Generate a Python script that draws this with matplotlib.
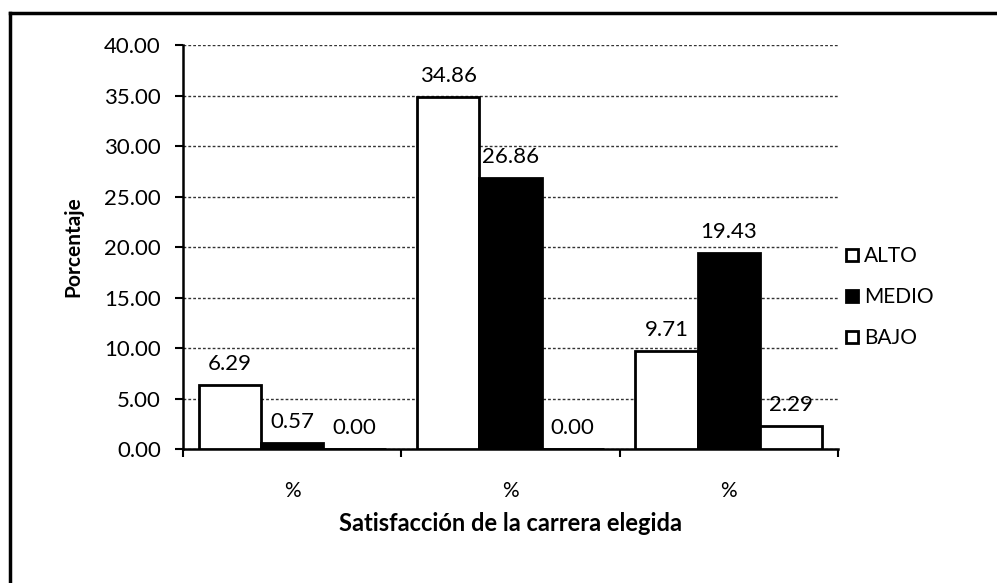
import numpy as np
import matplotlib.pyplot as plt
from matplotlib.lines import Line2D

plt.rcParams['font.family'] = ['Lato', 'DejaVu Sans']

categories = ['%', '%', '%']
series = ['ALTO', 'MEDIO', 'BAJO']
alto = [6.29, 34.86, 9.71]
medio = [0.57, 26.86, 19.43]
bajo = [0.00, 0.00, 2.29]
values = [alto, medio, bajo]
face_colors = ['white', 'black', 'white']

fig = plt.figure(figsize=(9.97, 5.83), dpi=100)
ax = fig.add_axes([0.1836, 0.2298, 0.6569, 0.6930])

x = np.arange(len(categories))
width = 0.285
for i, vals in enumerate(values):
    pos = x + (i - 1) * width
    ax.bar(pos, vals, width=width, color=face_colors[i], edgecolor='black',
           linewidth=2, zorder=3, label=series[i])
    for xp, v in zip(pos, vals):
        ax.annotate(f'{v:.2f}', (xp, v), xytext=(0, 8), textcoords='offset points',
                    ha='center', va='bottom', fontsize=16, zorder=4)

ax.set_xlim(-0.5, 2.5)
ax.set_ylim(0, 40)
ticks = np.arange(0, 40.01, 5)
ax.set_yticks(ticks)
ax.set_yticklabels([f'{t:.2f}' for t in ticks], fontsize=16)
ax.yaxis.grid(True, linestyle=(0, (2, 1.5)), color='#333333', linewidth=1)
ax.set_axisbelow(True)

ax.set_xticks(x)
ax.set_xticklabels(categories, fontsize=15)
ax.tick_params(axis='x', length=0, pad=23)
ax.set_xticks([-0.5, 0.5, 1.5, 2.5], minor=True)
ax.tick_params(axis='x', which='minor', length=6, width=1.5, direction='out')
ax.tick_params(axis='y', length=6, width=1.5, direction='out', pad=10)

for s in ['top', 'right']:
    ax.spines[s].set_visible(False)
ax.spines['left'].set_linewidth(1.8)
ax.spines['bottom'].set_linewidth(1.8)

ax.set_ylabel('Porcentaje', fontsize=15, fontweight='bold', labelpad=15)
ax.set_xlabel('Satisfacción de la carrera elegida', fontsize=17, fontweight='bold', labelpad=8)

handles = [Line2D([], [], marker='s', linestyle='none', markersize=9,
                  markerfacecolor=fc, markeredgecolor='black', markeredgewidth=2)
           for fc in face_colors]
fig.legend(handles, series, loc='center left', bbox_to_anchor=(0.825, 0.49),
           frameon=False, fontsize=15, handletextpad=0.1, labelspacing=1.0,
           handlelength=1.0)

# outer border (top and left edges)
fig.add_artist(Line2D([0.01, 0.01], [0.0, 0.977], color='black', linewidth=2.5,
                      transform=fig.transFigure))
fig.add_artist(Line2D([0.01, 1.0], [0.977, 0.977], color='black', linewidth=2.5,
                      transform=fig.transFigure))

fig.savefig('out.png', dpi=100)
